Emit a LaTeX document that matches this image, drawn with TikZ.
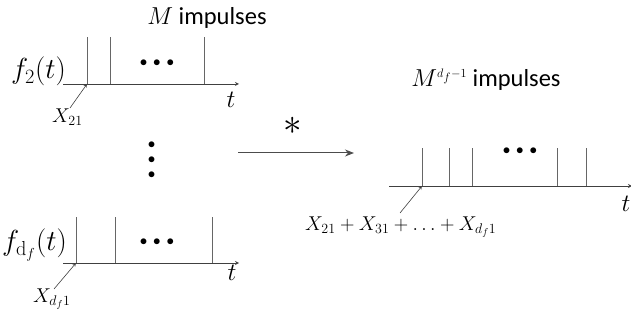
\RequirePackage{fix-cm}
\documentclass[tikz,border=0pt]{standalone}
\usepackage[no-math]{fontspec}
\setmainfont{Carlito}
\usetikzlibrary{arrows, arrows.meta, positioning, calc}

\begin{document}
\begin{tikzpicture}[x=1pt,y=-1pt]
        \tikzstyle{axis} = [draw=black!75, line width=0.8pt, ->, >=stealth]
        \tikzstyle{impulse} = [draw=black!60, line width=0.8pt]
        \tikzstyle{pointer} = [draw=black!75, line width=0.6pt, ->, >=stealth]
        \tikzstyle{convarrow} = [draw=black!70, line width=1pt, -{Stealth[length=9pt,width=7pt]}]
        \tikzstyle{funclabel} = [inner sep=0pt, font=\fontsize{29}{33}\selectfont]
        \tikzstyle{tlabel} = [inner sep=0pt, font=\fontsize{25}{29}\selectfont]
        \tikzstyle{mathlabel} = [inner sep=0pt, font=\fontsize{20}{24}\selectfont]
        \tikzstyle{textlabel} = [inner sep=0pt, font=\fontsize{24.5}{29}\selectfont]
        \tikzstyle{dots} = [inner sep=0pt, font=\fontsize{15}{18}\selectfont]

        \useasboundingbox (0,0) rectangle (631,320);

        % first sequence
        \coordinate (ax2s) at (63,84);
        \coordinate (ax2e) at (239,84);
        \draw [axis] (ax2s) -- (ax2e);
        \foreach \x [count=\i] in {87,110,204}
            \draw [impulse] (\x,84) coordinate (im2-\i) -- ++(0,-47);
        \node (dots2) [dots] at (157,63) {$\bullet\mkern3mu\bullet\mkern3mu\bullet$};
        \node (f2) [funclabel, anchor=base east] at (66,79) {$f_2(t)$};
        \node (t2) [tlabel, anchor=base] at (231,108) {$t$};
        \node (x21) [mathlabel, anchor=base west] at (52,123) {$X_{21}$};
        \node (m2) [textlabel, anchor=base] at (207,25) {$M$ impulses};
        \coordinate (x21tip) at (70,108);
        \draw [pointer] (x21tip) -- (im2-1);

        % vertical dots
        \node (vdots) [dots, rotate=90] at (152,160) {$\bullet\mkern5mu\bullet\mkern5mu\bullet$};

        % last sequence
        \coordinate (axds) at (63,263);
        \coordinate (axde) at (239,263);
        \draw [axis] (axds) -- (axde);
        \foreach \x [count=\i] in {76,115,212}
            \draw [impulse] (\x,263) coordinate (imd-\i) -- ++(0,-46);
        \node (dotsd) [dots] at (157,242) {$\bullet\mkern3mu\bullet\mkern3mu\bullet$};
        \node (fd) [funclabel, anchor=base east] at (67,251) {$f_{\mathrm{d}_f}(t)$};
        \node (td) [tlabel, anchor=base] at (232,280) {$t$};
        \node (xd1) [mathlabel, anchor=base west] at (33,302) {$X_{d_f1}$};
        \coordinate (xd1tip) at (54,289);
        \draw [pointer] (xd1tip) -- (imd-1);

        % convolution
        \coordinate (cvs) at (238,153);
        \coordinate (cve) at (354,153);
        \draw [convarrow] (cvs) -- (cve);
        \node (star) [inner sep=0pt, font=\fontsize{37}{42}\selectfont] at (293,126) {$\ast$};

        % result sequence
        \coordinate (axrs) at (389,186);
        \coordinate (axre) at (632,186);
        \draw [axis] (axrs) -- (axre);
        \foreach \x [count=\i] in {422,449,472,557,586}
            \draw [impulse] (\x,186) coordinate (imr-\i) -- ++(0,-38);
        \node (dotsr) [dots] at (520,151) {$\bullet\mkern3mu\bullet\mkern3mu\bullet$};
        \node (tr) [tlabel, anchor=base] at (626,212) {$t$};
        \node (xsum) [mathlabel, anchor=base west] at (305,230) {$X_{21}+X_{31}+\ldots+X_{d_f1}$};
        \node (mr) [textlabel, anchor=base] at (486,87) {$M^{\scriptscriptstyle d_f-1}$ impulses};
        \coordinate (xsumtip) at (400,213);
        \draw [pointer] (xsumtip) -- (imr-1);
\end{tikzpicture}
\end{document}
